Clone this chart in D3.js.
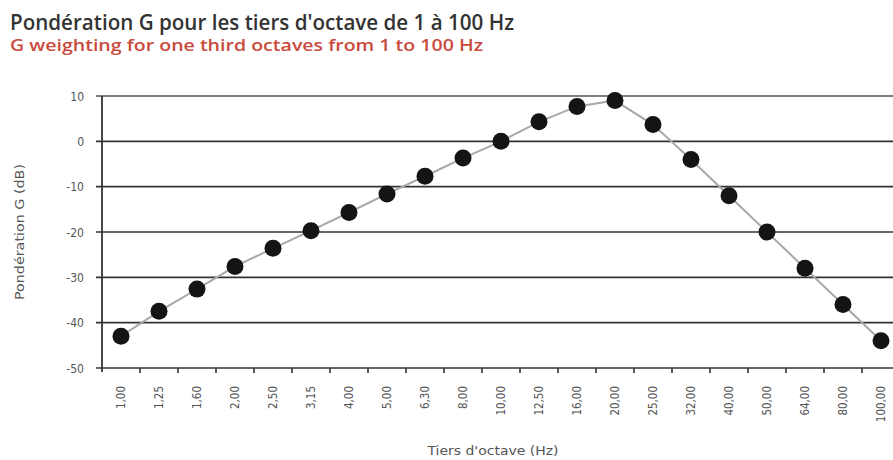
<!DOCTYPE html>
<html>
<head>
<meta charset="utf-8">
<script src="https://cdn.jsdelivr.net/npm/d3@7"></script>
<style>
  body { margin: 0; background: #fff; }
  svg { display: block; }
</style>
</head>
<body>
<div id="chart"></div>
<script>
// third-octave bands, 1 to 100 Hz
const bands = ["1,00", "1,25", "1,60", "2,00", "2,50", "3,15", "4,00", "5,00", "6,30", "8,00",
  "10,00", "12,50", "16,00", "20,00", "25,00", "32,00", "40,00", "50,00", "64,00", "80,00", "100,00"];
// G weighting (dB)
const weighting = [-43, -37.5, -32.6, -27.6, -23.6, -19.7, -15.7, -11.6, -7.7, -3.7,
  0, 4.3, 7.7, 9.0, 3.7, -4.0, -12.0, -20.0, -28.0, -36.0, -44.0];
const yTicks = [10, 0, -10, -20, -30, -40, -50];

const width = 893, height = 460;
const plotLeft = 102, plotTop = 96, plotBottom = 368;
const step = 38;
const labelFont = "DejaVu Sans Condensed";

const svg = d3.select("#chart").append("svg")
  .attr("width", width)
  .attr("height", height);

// titles
svg.append("text")
  .attr("x", 10).attr("y", 30)
  .attr("font-family", "Open Sans")
  .attr("font-weight", 600)
  .attr("font-size", 21)
  .attr("fill", "#333")
  .attr("textLength", 504)
  .attr("lengthAdjust", "spacingAndGlyphs")
  .text("Pondération G pour les tiers d'octave de 1 à 100 Hz");

svg.append("text")
  .attr("x", 10).attr("y", 51)
  .attr("font-family", "Open Sans")
  .attr("font-weight", 600)
  .attr("font-size", 16)
  .attr("fill", "#c94b3d")
  .attr("textLength", 473)
  .attr("lengthAdjust", "spacingAndGlyphs")
  .text("G weighting for one third octaves from 1 to 100 Hz");

const x = d3.scaleBand()
  .domain(bands)
  .range([plotLeft, plotLeft + bands.length * step])
  .padding(0);

const y = d3.scaleLinear()
  .domain([-50, 10])
  .range([plotBottom, plotTop]);

// horizontal grid
svg.append("g")
  .selectAll("line")
  .data(yTicks)
  .join("line")
  .attr("x1", plotLeft - 6)
  .attr("x2", width)
  .attr("y1", d => y(d))
  .attr("y2", d => y(d))
  .attr("stroke", d => d === 10 ? "#555" : "#333")
  .attr("stroke-width", 1.6);

// y axis line
svg.append("line")
  .attr("x1", plotLeft).attr("x2", plotLeft)
  .attr("y1", plotTop).attr("y2", plotBottom + 4)
  .attr("stroke", "#333")
  .attr("stroke-width", 1.8);

// y tick labels
svg.append("g")
  .selectAll("text")
  .data(yTicks)
  .join("text")
  .attr("x", 84)
  .attr("y", d => y(d) + 4.5)
  .attr("text-anchor", "end")
  .attr("font-family", labelFont)
  .attr("font-size", 12)
  .attr("fill", "#555")
  .text(d => d);

// x ticks at band boundaries
svg.append("g")
  .selectAll("line")
  .data(bands)
  .join("line")
  .attr("x1", d => x(d) + step)
  .attr("x2", d => x(d) + step)
  .attr("y1", plotBottom)
  .attr("y2", plotBottom + 5)
  .attr("stroke", "#333")
  .attr("stroke-width", 1.6);

// x tick labels
svg.append("g")
  .selectAll("text")
  .data(bands)
  .join("text")
  .attr("transform", d => `translate(${x(d) + x.bandwidth() / 2 + 4},386) rotate(-90)`)
  .attr("text-anchor", "end")
  .attr("font-family", labelFont)
  .attr("font-size", 11.5)
  .attr("fill", "#555")
  .text(d => d);

// axis titles
svg.append("text")
  .attr("x", 493).attr("y", 455)
  .attr("text-anchor", "middle")
  .attr("font-family", labelFont)
  .attr("font-size", 12.5)
  .attr("fill", "#555")
  .attr("textLength", 131)
  .attr("lengthAdjust", "spacingAndGlyphs")
  .text("Tiers d'octave (Hz)");

svg.append("text")
  .attr("transform", "translate(24,232) rotate(-90)")
  .attr("text-anchor", "middle")
  .attr("font-family", labelFont)
  .attr("font-size", 12.5)
  .attr("fill", "#555")
  .attr("textLength", 136)
  .attr("lengthAdjust", "spacingAndGlyphs")
  .text("Pondération G (dB)");

// line + markers
const pts = bands.map((b, i) => [x(b) + x.bandwidth() / 2, y(weighting[i])]);

svg.append("path")
  .attr("d", d3.line()(pts))
  .attr("fill", "none")
  .attr("stroke", "#a8a8a8")
  .attr("stroke-width", 2);

svg.append("g")
  .selectAll("circle")
  .data(pts)
  .join("circle")
  .attr("cx", d => d[0])
  .attr("cy", d => d[1])
  .attr("r", 8.5)
  .attr("fill", "#141414");
</script>
</body>
</html>
